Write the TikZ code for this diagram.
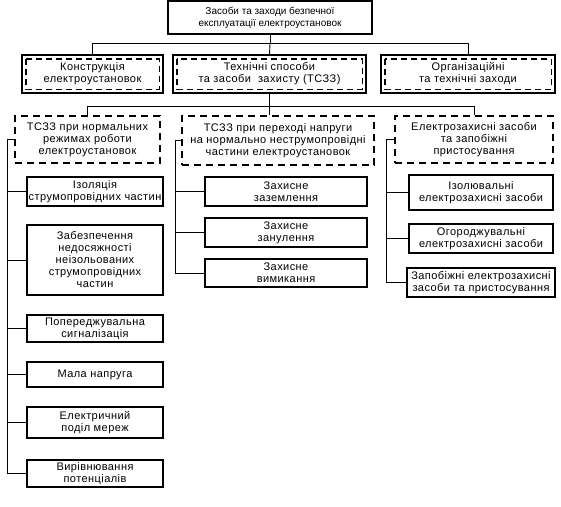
\documentclass[tikz,border=0pt]{standalone}
\usepackage{fontspec}
\setmainfont{Liberation Sans}
\newfontfamily\widefont[LetterSpace=4]{Liberation Sans}
\begin{document}
\begin{tikzpicture}[x=1pt,y=-1pt,
  box/.style={draw, line width=1.1pt, align=center, inner sep=1pt,
    font=\widefont\fontsize{11}{12}\selectfont},
  topbox/.style={box, line width=1.5pt, font=\fontsize{10}{12}\selectfont},
  sec/.style={box},
  innerframe/.style={line width=1.1pt, dash pattern=on 6pt off 4pt},
  grp/.style={box, dash pattern=on 7pt off 5pt},
  leaf/.style={box},
  link/.style={line width=0.9pt}]
\useasboundingbox (0,0) rectangle (561,506);

\node[topbox, minimum width=204pt, minimum height=33pt] (top) at (270,17.5)
  {Засоби та заходи безпечної\\експлуатації електроустановок};

\node[sec, minimum width=141pt, minimum height=38pt] (kon) at (92.5,74)
  {Конструкція\\електроустановок};
\node[sec, minimum width=193pt, minimum height=38pt] (tsz) at (269.5,74)
  {Технічні способи\\та засоби\ \ захисту (ТСЗЗ)};
\node[sec, minimum width=174pt, minimum height=38pt] (org) at (468,74)
  {Організаційні\\та технічні заходи};
\foreach \n in {kon,tsz,org}
  \draw[innerframe] ([shift={(4.5,4.5)}]\n.north west) rectangle ([shift={(-4.5,-4.5)}]\n.south east);

\node[grp, minimum width=145pt, minimum height=47pt] (r3a) at (87.5,139.5)
  {ТСЗЗ при нормальних\\режимах роботи\\електроустановок};
\node[grp, minimum width=192pt, minimum height=49pt] (r3b) at (278,140.5)
  {ТСЗЗ при переході напруги\\на нормально неструмопровідні\\частини електроустановок};
\node[grp, minimum width=158pt, minimum height=47pt] (r3c) at (474,139.5)
  {Електрозахисні засоби\\та запобіжні\\пристосування};

% left column
\node[leaf, minimum width=136pt, minimum height=29pt] (l1) at (95,191.5)
  {Ізоляція\\струмопровідних частин};
\node[leaf, minimum width=136pt, minimum height=70pt] (l2) at (95,260)
  {Забезпечення\\недосяжності\\неізольованих\\струмопровідних\\частин};
\node[leaf, minimum width=136pt, minimum height=27pt] (l3) at (95,328.5)
  {Попереджувальна\\сигналізація};
\node[leaf, minimum width=136pt, minimum height=25pt] (l4) at (95,374.5)
  {Мала напруга};
\node[leaf, minimum width=136pt, minimum height=31pt] (l5) at (95,422.5)
  {Електричний\\поділ мереж};
\node[leaf, minimum width=136pt, minimum height=27pt] (l6) at (95,473.5)
  {Вирівнювання\\потенціалів};

% middle column
\node[leaf, minimum width=162pt, minimum height=29pt] (m1) at (286,191.5)
  {Захисне\\заземлення};
\node[leaf, minimum width=162pt, minimum height=29pt] (m2) at (286,232.5)
  {Захисне\\занулення};
\node[leaf, minimum width=162pt, minimum height=28pt] (m3) at (286,273)
  {Захисне\\вимикання};

% right column
\node[leaf, minimum width=144pt, minimum height=35pt] (c1) at (481,192.5)
  {Ізолювальні\\електрозахисні засоби};
\node[leaf, minimum width=144pt, minimum height=29pt] (c2) at (481,238.5)
  {Огороджувальні\\електрозахисні засоби};
\node[leaf, minimum width=148pt, minimum height=29pt] (c3) at (481,282.5)
  {Запобіжні електрозахисні\\засоби та пристосування};

% connectors
\draw[link] (top.south) -- ++(0,9) coordinate (h1);
\draw[link] (kon.north) |- (h1) -| (org.north);
\draw[link] (h1) -- (tsz.north);
\draw[link] (tsz.south) -- ++(0,13) coordinate (h2);
\draw[link] (r3a.north) |- (h2) -| (r3c.north);
\draw[link] (h2) -- (h2 |- r3b.north);

\coordinate (lv) at (7,0);
\coordinate (mv) at (175,0);
\coordinate (rv) at (386,0);
\draw[link] (r3a.west) -- (r3a.west -| lv) |- (l6.west);
\foreach \n in {l1,l2,l3,l4,l5} \draw[link] (\n.west -| lv) -- (\n.west);
\draw[link] (r3b.west) -- (r3b.west -| mv) |- (m3.west);
\foreach \n in {m1,m2} \draw[link] (\n.west -| mv) -- (\n.west);
\draw[link] (r3c.west) -- (r3c.west -| rv) |- (c3.west);
\foreach \n in {c1,c2} \draw[link] (\n.west -| rv) -- (\n.west);
\end{tikzpicture}
\end{document}
